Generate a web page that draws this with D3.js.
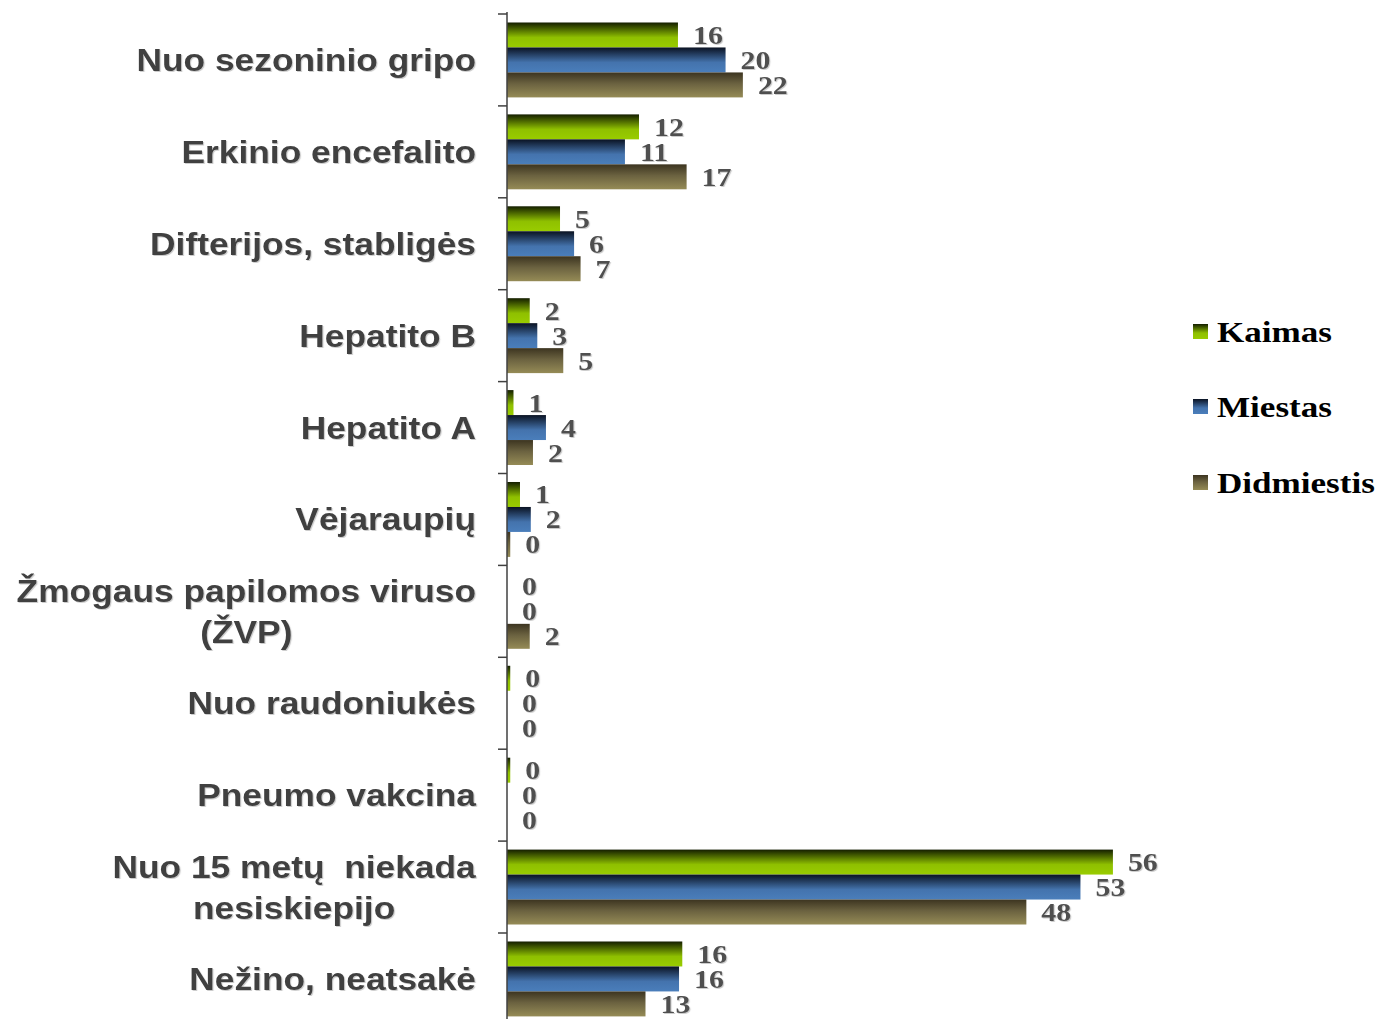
<!DOCTYPE html>
<html>
<head>
<meta charset="utf-8">
<style>
    body { margin: 0; background: #fff; }
    svg { display: block; }
    text { white-space: pre; }
</style>
</head>
<body>
<svg width="1379" height="1019"></svg>
<script src="https://d3js.org/d3.v7.min.js"></script>
<script>
    // categories (each line of a label is a list item)
    let categories = [
        ["Nuo sezoninio gripo"],
        ["Erkinio encefalito"],
        ["Difterijos, stabligės"],
        ["Hepatito B"],
        ["Hepatito A"],
        ["Vėjaraupių"],
        ["Žmogaus papilomos viruso", "(ŽVP)"],
        ["Nuo raudoniukės"],
        ["Pneumo vakcina"],
        ["Nuo 15 metų  niekada", "nesiskiepijo"],
        ["Nežino, neatsakė"]
    ]
    let seriesNames = ["Kaimas", "Miestas", "Didmiestis"]
    let kaimas     = [15.8, 12.2, 4.9, 2.1, 0.6, 1.2, 0, 0.3, 0.3, 56, 16.2]
    let miestas    = [20.2, 10.9, 6.2, 2.8, 3.6, 2.2, 0, 0, 0, 53, 15.9]
    let didmiestis = [21.8, 16.6, 6.8, 5.2, 2.4, 0.3, 2.1, 0, 0, 48, 12.8]
    let values = [kaimas, miestas, didmiestis]

    let svg = d3.select("svg")
    let axisX = 507
    let topY = 14
    let bandH = 91.9

    let defs = svg.append("defs")
    let grads = [
        [["0", "#141e00"], ["0.6", "#8fc000"], ["1", "#99cc00"]],
        [["0", "#0a1222"], ["0.6", "#4473ad"], ["1", "#4a7ebb"]],
        [["0", "#3c3420"], ["0.45", "#6b6240"], ["1", "#958b56"]]
    ]
    grads.forEach((g, i) => {
        let lg = defs.append("linearGradient")
            .attr("id", "g" + i)
            .attr("x1", 0).attr("y1", 0).attr("x2", 0).attr("y2", 1)
        g.forEach(s => lg.append("stop").attr("offset", s[0]).attr("stop-color", s[1]))
    })
    let sh = defs.append("filter").attr("id", "shadow")
        .attr("x", "-10%").attr("y", "-10%").attr("width", "130%").attr("height", "130%")
    sh.append("feDropShadow").attr("dx", 1).attr("dy", 1)
        .attr("stdDeviation", 0.6).attr("flood-color", "#aaa").attr("flood-opacity", 0.6)

    let x = d3.scaleLinear().domain([0, 60]).range([axisX, axisX + 60 * 10.82])
    let y0 = d3.scaleBand().domain(d3.range(categories.length))
        .range([topY, topY + bandH * categories.length])
    let y1 = d3.scaleBand().domain(d3.range(3))
        .range([0, y0.bandwidth()]).paddingOuter(0.34)

    // bars
    let groups = svg.append("g").selectAll("g")
        .data(categories)
        .join("g")
        .attr("transform", (d, i) => "translate(0," + y0(i) + ")")

    groups.each(function (c, i) {
        let g = d3.select(this)
        let rows = values.map((s, k) => ({ k: k, v: s[i] }))
        g.selectAll("rect")
            .data(rows)
            .join("rect")
            .attr("x", axisX)
            .attr("y", d => y1(d.k))
            .attr("width", d => x(d.v) - axisX)
            .attr("height", y1.bandwidth())
            .attr("fill", d => "url(#g" + d.k + ")")
        g.selectAll("text")
            .data(rows)
            .join("text")
            .attr("transform", d => "translate(" + (x(d.v) + 15) + "," + (y1(d.k) + y1.bandwidth() / 2 + 9) + ") scale(1.15,1)")
            .attr("font-family", "'Liberation Serif', 'Times New Roman', serif")
            .attr("font-weight", "bold")
            .attr("font-size", 26)
            .attr("fill", "#505050")
            .attr("filter", "url(#shadow)")
            .text(d => d3.format(".0f")(d.v))
    })

    // axis line and ticks at band edges
    let ax = svg.append("g").attr("stroke", "#404040").attr("stroke-width", 1.5)
    ax.append("line").attr("x1", axisX).attr("x2", axisX).attr("y1", topY - 2).attr("y2", 1019)
    ax.selectAll(".tick")
        .data(d3.range(categories.length + 1))
        .join("line")
        .attr("x1", axisX - 9).attr("x2", axisX)
        .attr("y1", d => d < categories.length ? y0(d) : y0(d - 1) + bandH)
        .attr("y2", d => d < categories.length ? y0(d) : y0(d - 1) + bandH)

    // category labels
    let lineH = 41
    let labels = svg.append("g").selectAll("g")
        .data(categories)
        .join("g")
        .attr("transform", (d, i) => "translate(476," + (y0(i) + y0.bandwidth() / 2 + 11 - (d.length - 1) * lineH / 2) + ") scale(1.14,1)")
    labels.each(function (c) {
        let g = d3.select(this)
        let t = g.append("text")
            .attr("font-family", "'Liberation Sans', Arial, sans-serif")
            .attr("font-weight", "bold")
            .attr("font-size", 31)
            .attr("fill", "#404040")
            .attr("filter", "url(#shadow)")
        if (c.length === 1) {
            t.attr("text-anchor", "end").text(c[0])
        } else {
            t.attr("text-anchor", "middle")
            c.forEach((line, j) => t.append("tspan").attr("x", 0).attr("y", j * lineH).text(line))
            // center the block, right aligned to the edge
            let w = t.node().getBBox().width
            t.attr("transform", "translate(" + (-w / 2) + ",0)")
        }
    })

    // legend
    let legendY = [332, 407, 483]
    let legend = svg.append("g").selectAll("g")
        .data(seriesNames)
        .join("g")
        .attr("transform", (d, i) => "translate(1193," + legendY[i] + ")")
    legend.append("rect")
        .attr("x", 0).attr("y", -8).attr("width", 15).attr("height", 15)
        .attr("fill", (d, i) => "url(#g" + i + ")")
    legend.append("text")
        .attr("transform", "translate(24,10) scale(1.17,1)")
        .attr("font-family", "'Liberation Serif', 'Times New Roman', serif")
        .attr("font-weight", "bold")
        .attr("font-size", 30)
        .attr("fill", "#000")
        .text(d => d)
</script>
</body>
</html>
